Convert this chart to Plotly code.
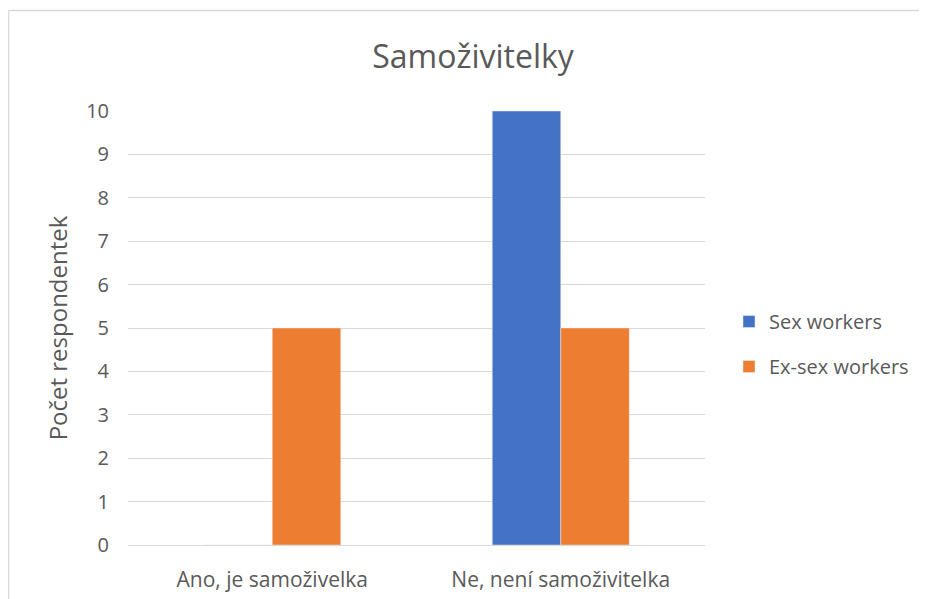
import plotly.graph_objects as go

categories = ["Ano, je samoživelka", "Ne, není samoživitelka"]
sex_workers = [0, 10]
ex_sex_workers = [5, 5]
y_ticks = list(range(0, 11))

W, H = 927, 599
OFF = 8  # page body margin shifts the figure
L, T = 128 - OFF, 111 - OFF
R = W - (705 - OFF)
B = H - (545 - OFF)
FONT = "Open Sans, Noto Sans, sans-serif"
GREY = "#595959"

fig = go.Figure()
fig.add_trace(go.Bar(name="Sex workers", x=categories, y=sex_workers,
                     marker_color="#4472C4", legendgroup="a"))
fig.add_trace(go.Bar(name="Ex-sex workers", x=categories, y=ex_sex_workers,
                     marker_color="#ED7D31", legendgroup="b"))

pw = W - L - R
ph = H - T - B

# light grey chart border (top and left edges are visible)
bx0 = (0.5 - L) / pw
by1 = (H - B - 2.5) / ph
border = [
    dict(type="line", xref="paper", yref="paper", x0=bx0, x1=(W - L) / pw,
         y0=by1, y1=by1, line=dict(color="#D9D9D9", width=1.5), layer="below"),
    dict(type="line", xref="paper", yref="paper", x0=bx0, x1=bx0,
         y0=-B / ph, y1=by1, line=dict(color="#D9D9D9", width=1.5), layer="below"),
]

fig.update_layout(
    width=W, height=H,
    margin=dict(l=L, r=R, t=T, b=B),
    paper_bgcolor="white", plot_bgcolor="white",
    font=dict(family=FONT, color=GREY, size=20),
    barmode="group", bargap=0.525, bargroupgap=0,
    title=dict(text="Samoživitelky", x=(473 - OFF) / W, xanchor="center",
               y=1 - (57 - OFF) / H, yanchor="middle",
               font=dict(size=32, color=GREY, family=FONT)),
    legend=dict(x=(729 - OFF - L) / pw, xanchor="left",
                y=(H - B - (344 - OFF)) / ph,
                yanchor="middle", font=dict(size=20, color=GREY),
                tracegroupgap=16, itemwidth=30),
    shapes=border,
)

fig.update_yaxes(range=[0, 10], tickvals=y_ticks, showgrid=True,
                 gridcolor="#D9D9D9", gridwidth=1, zeroline=False,
                 showline=False, ticks="", ticklabelstandoff=18,
                 tickfont=dict(size=20, color=GREY),
                 title=dict(text="Počet respondentek", standoff=11,
                            font=dict(size=24, color=GREY)))
fig.update_xaxes(showline=True, linecolor="#D9D9D9", linewidth=1,
                 ticks="", ticklabelstandoff=16,
                 tickfont=dict(size=21, color=GREY))

fig.write_html("out.html")
